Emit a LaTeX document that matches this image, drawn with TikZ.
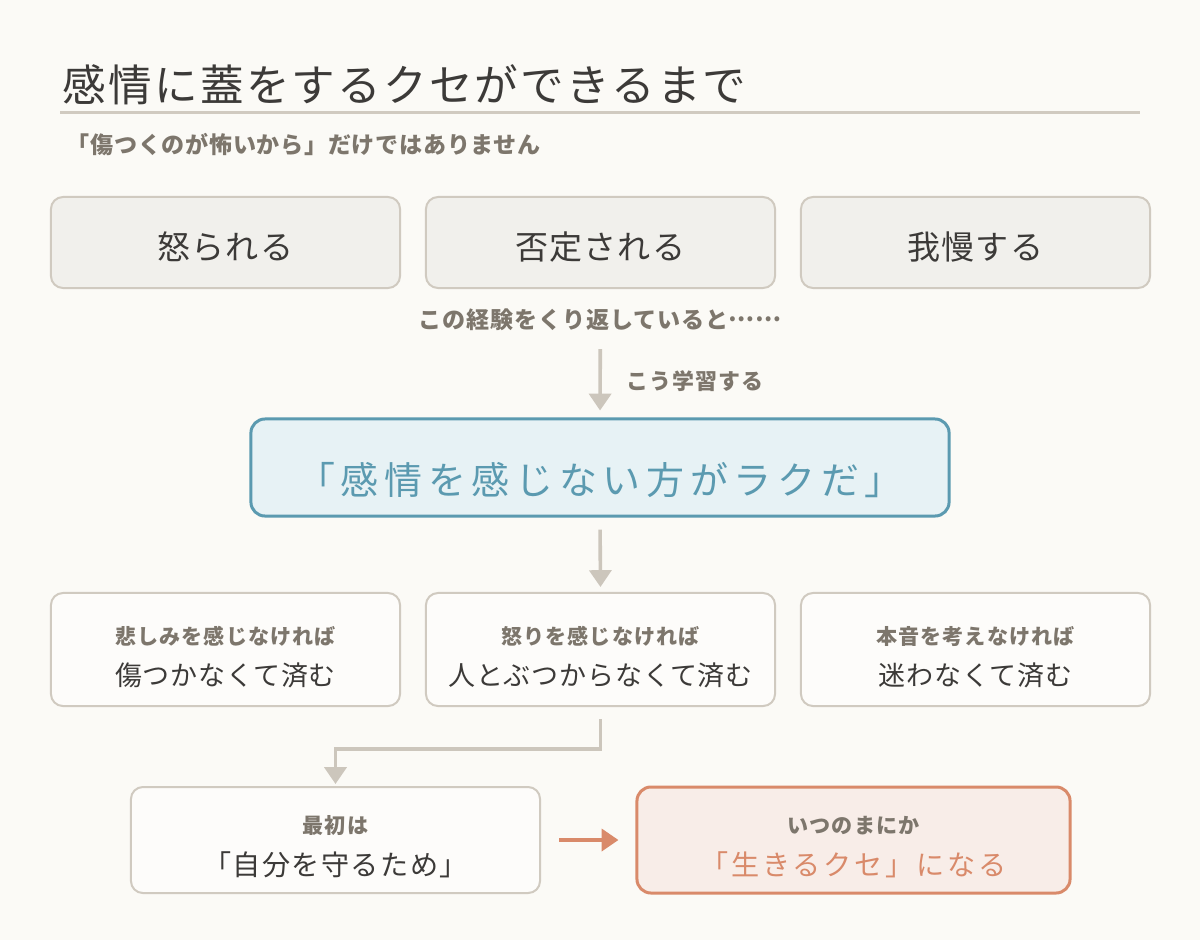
\documentclass[tikz,border=0pt]{standalone}
\usepackage{fontspec}
\setmainfont{Noto Sans CJK JP}
\usepackage{tikz}
\usetikzlibrary{arrows.meta}
\definecolor{paper}{HTML}{FBFAF6}
\definecolor{ink}{HTML}{3C3A38}
\definecolor{mute}{HTML}{7D766C}
\definecolor{rim}{HTML}{D0CAC0}
\definecolor{stone}{HTML}{F1F0EC}
\definecolor{card}{HTML}{FDFCFA}
\definecolor{sea}{HTML}{5B9AB0}
\definecolor{mist}{HTML}{E7F2F5}
\definecolor{clay}{HTML}{D98A6A}
\definecolor{blush}{HTML}{F8EDE8}
\definecolor{pebble}{HTML}{CCC6BC}
\newcommand{\ls}[1]{\addfontfeature{LetterSpace=#1}}

\begin{document}
\begin{tikzpicture}[x=0.025cm,y=-0.025cm,
  >={Triangle[length=0.42cm,width=0.55cm]},
  event box/.style={draw=rim,fill=stone,line width=0.05cm,rounded corners=0.3cm,
    minimum width=8.725cm,minimum height=2.275cm,text=ink,
    text height=0.84cm,text depth=0cm,
    font=\fontsize{23.5}{26}\selectfont\ls{3}},
  result box/.style={draw=rim,fill=card,line width=0.05cm,rounded corners=0.3cm,
    minimum width=8.725cm,minimum height=2.825cm},
  tag text/.style={text=mute,font=\bfseries\fontsize{15}{17}\selectfont\ls{5}},
  main text/.style={text=ink,font=\fontsize{19.2}{22}\selectfont\ls{3}},
  flow/.style={->,draw=pebble,line width=0.09cm},
  hot flow/.style={->,draw=clay,line width=0.09cm}]

  \useasboundingbox[fill=paper] (0,0) rectangle (1200,940);

  % heading
  \node[anchor=west,text=ink,font=\fontsize{31}{34}\selectfont\ls{5}] (title) at (58,85)
    {感情に蓋をするクセができるまで};
  \draw[draw=rim,line width=0.075cm] (60,112) -- (1140,112);
  \node[anchor=west,tag text,font=\bfseries\fontsize{16.4}{18}\selectfont\ls{3}] (sub) at (62,145)
    {「傷つくのが怖いから」だけではありません};

  % experiences
  \foreach \t/\n [count=\c] in {怒られる/scold,否定される/deny,我慢する/endure}{
  \node[event box] (\n) at (225.5+375*\c-375,242.5) {\t};
}

  \node[tag text,font=\bfseries\fontsize{16.4}{18}\selectfont\ls{4}] (repeat) at (600,320)
    {この経験をくり返していると\raisebox{0.3em}{……}};

  % the lesson
  \node[draw=sea,fill=mist,line width=0.075cm,rounded corners=0.35cm,
    minimum width=17.45cm,minimum height=2.425cm] (learn) at (600,467.5) {};
  \node[text=sea,font=\fontsize{27}{30}\selectfont\ls{15}] (learn text) at (600,480)
    {「感情を感じない方がラクだ」};

  % what it buys
  \foreach \a/\b/\n [count=\c] in {悲しみを感じなければ/傷つかなくて済む/sad,
    怒りを感じなければ/人とぶつからなくて済む/anger,
    本音を考えなければ/迷わなくて済む/honest}{
  \node[result box] (\n) at (225.5+375*\c-375,649.5) {};
  \node[tag text] (\n tag) at (225.5+375*\c-375,636) {\a};
  \node[main text] (\n main) at (225.5+375*\c-375,675) {\b};
}

  % first and later
  \node[result box,minimum width=10.225cm,minimum height=2.65cm] (start) at (335.5,840) {};
  \node[tag text] (start tag) at (335.5,826) {最初は};
  \node[main text,font=\fontsize{20}{22}\selectfont\ls{5}] (start main) at (335.5,865)
    {「自分を守るため」};
  \node[draw=clay,fill=blush,line width=0.075cm,rounded corners=0.35cm,
    minimum width=10.825cm,minimum height=2.65cm] (habit) at (853.5,840) {};
  \node[tag text] (habit tag) at (853.5,826) {いつのまにか};
  \node[text=clay,font=\fontsize{20}{22}\selectfont\ls{10}] (habit main) at (853.5,865)
    {「生きるクセ」になる};

  \draw[flow,shorten <=1.5cm,shorten >=0.175cm] (deny.south) -- (learn.north)
    node[pos=0.72,anchor=west,xshift=0.5cm,tag text,font=\bfseries\fontsize{15.6}{18}\selectfont\ls{5}] (lesson) {こう学習する};
  \draw[flow,shorten <=0.3cm,shorten >=0.125cm] (learn.south) -- (anger.north);
  \draw[flow,shorten <=0.3cm,shorten >=0.05cm] (anger.south) -- ++(0,42) -| (start.north);
  \draw[hot flow,shorten <=0.45cm,shorten >=0.425cm] (start.east) -- (habit.west);
\end{tikzpicture}
\end{document}
